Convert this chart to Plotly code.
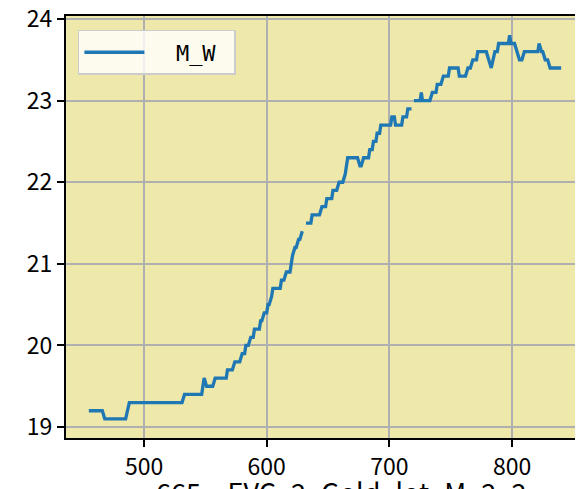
import plotly.graph_objects as go

# Vertices of the M_W trace (None marks a gap in the series)
x_vals = [455, 466, 468, 485, 488, 531, 533, 547, 549, 551, 556, 558, 567, 568, 572, 574,
          578, 580, 582, 583, 585, 587, 589, 590, 594, 595, 596, 598, 600, 601, 602, 604,
          605, 611, 612, 614, 616, 619, 620, 621, 623, 624, 626, 627, 629, None,
          632, 636, 637, 643, 645, 648, 649, 653, 654, 657, 659, 662, 664, 665, 666, 674,
          676, 677, 679, 683, 684, 686, 687, 689, 690, 692, 693, 701, 702, 704, 705, 710,
          711, 714, 715, 718, None,
          720, 725, 726, 727, 733, 735, 738, 739, 742, 744, 748, 749, 756, 757, 762, 764,
          766, 768, 771, 772, 779, 781, 783, 786, 788, 789, 797, 798, 799, 802, 804, 806,
          808, 810, 821, 822, 824, 825, 827, 829, 831, 840]
y_vals = [19.2, 19.2, 19.1, 19.1, 19.3, 19.3, 19.4, 19.4, 19.6, 19.5, 19.5, 19.6, 19.6, 19.7, 19.7, 19.8,
          19.8, 19.9, 19.9, 20.0, 20.0, 20.1, 20.1, 20.2, 20.2, 20.3, 20.3, 20.4, 20.4, 20.5, 20.5, 20.6,
          20.7, 20.7, 20.8, 20.8, 20.9, 20.9, 21.0, 21.1, 21.2, 21.2, 21.3, 21.3, 21.4, None,
          21.5, 21.5, 21.6, 21.6, 21.7, 21.7, 21.8, 21.8, 21.9, 21.9, 22.0, 22.0, 22.1, 22.2, 22.3, 22.3,
          22.2, 22.2, 22.3, 22.3, 22.4, 22.4, 22.5, 22.5, 22.6, 22.6, 22.7, 22.7, 22.8, 22.8, 22.7, 22.7,
          22.8, 22.8, 22.9, 22.9, None,
          23.0, 23.0, 23.1, 23.0, 23.0, 23.1, 23.1, 23.2, 23.2, 23.3, 23.3, 23.4, 23.4, 23.3, 23.3, 23.4,
          23.4, 23.5, 23.5, 23.6, 23.6, 23.5, 23.4, 23.6, 23.6, 23.7, 23.7, 23.8, 23.7, 23.7, 23.6, 23.5,
          23.5, 23.6, 23.6, 23.7, 23.6, 23.6, 23.5, 23.5, 23.4, 23.4]

x_ticks = [500, 600, 700, 800]
y_ticks = [19, 20, 21, 22, 23, 24]
series_name = "M_W"
x_title = "665 – EVC_2_Gold_lot_M_2_2"

FONT = "Noto Sans CJK JP, Liberation Sans, sans-serif"

fig = go.Figure()
fig.add_trace(go.Scatter(
    x=x_vals, y=y_vals, mode="lines", name="  " + series_name + " ",
    line=dict(color="#1f77b4", width=3.3), connectgaps=False,
))

axis_common = dict(
    showgrid=True, gridcolor="#b0b0b0", gridwidth=1.6,
    showline=True, linecolor="black", linewidth=2,
    ticks="outside", ticklen=7, tickwidth=2, tickcolor="black",
    zeroline=False, ticklabeloverflow="allow",
    tickfont=dict(family=FONT, size=23, color="black"),
)

fig.update_layout(
    width=583, height=520,
    margin=dict(l=58, r=8, t=8, b=90, autoexpand=False),
    paper_bgcolor="white",
    plot_bgcolor="#eee8aa",
    font=dict(family=FONT, color="black"),
    showlegend=True,
    legend=dict(
        x=0.023, y=0.967, xanchor="left", yanchor="top",
        bgcolor="rgba(255,255,255,0.8)", bordercolor="#cccccc", borderwidth=1.5,
        font=dict(family="DejaVu Sans Mono, monospace", size=22, color="black"),
        itemwidth=60,
    ),
    xaxis=dict(axis_common, range=[436.4, 857.8], tickvals=x_ticks, mirror=True),
    yaxis=dict(axis_common, range=[18.866, 24.037], tickvals=y_ticks, mirror=False),
    annotations=[dict(
        text=x_title, xref="paper", yref="paper", x=0.532, y=-0.076,
        xanchor="center", yanchor="top", showarrow=False,
        font=dict(family=FONT, size=27, color="black"),
    )],
)

fig.write_html("out.html")
